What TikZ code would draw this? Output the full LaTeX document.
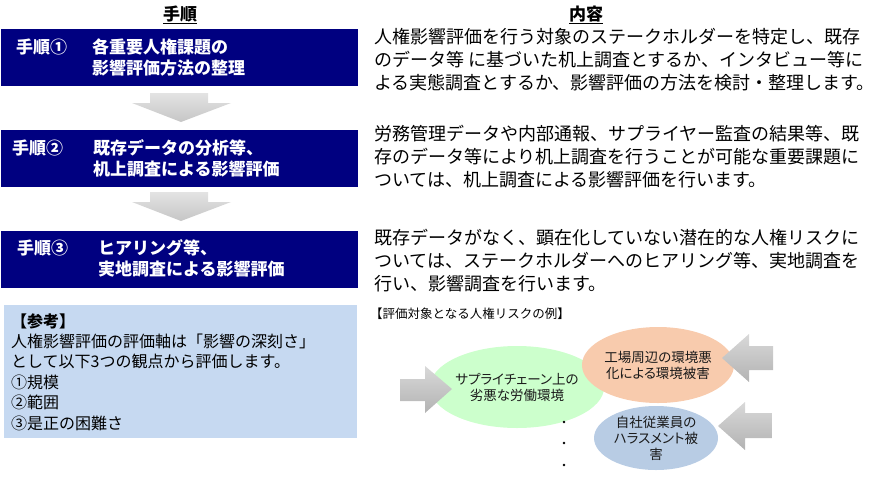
\documentclass[tikz,border=0pt]{standalone}
\usepackage{fontspec}
\setmainfont{Noto Sans CJK JP}
\newfontfamily\ovalfont{Noto Sans CJK JP}[RawFeature=+palt]
\usepackage{xcolor}
\usepackage{tikz}
\usetikzlibrary{shapes.geometric}
\definecolor{stepnavy}{HTML}{000080}
\definecolor{refblue}{HTML}{C6D9F1}
\definecolor{riskgreen}{HTML}{CCFFCC}
\definecolor{riskorange}{HTML}{F8CBAD}
\definecolor{riskblue}{HTML}{B8CCE4}
\definecolor{txtgray}{HTML}{1A1A1A}

\begin{document}
\begin{tikzpicture}[x=1pt,y=-1pt,
    stepbox/.style={fill=stepnavy, minimum width=357pt, minimum height=57pt},
    steplbl/.style={text=white, font=\fontsize{17}{21}\selectfont\bfseries, align=left, anchor=west},
    headlbl/.style={font=\fontsize{17}{20}\selectfont\bfseries},
    bodytxt/.style={font=\fontsize{18}{23}\selectfont, align=left, anchor=west},
    reftxt/.style={font=\fontsize{16}{20.4}\selectfont, align=left, anchor=west},
    riskoval/.style={ellipse, font=\ovalfont\fontsize{13.5}{16}\selectfont, text=txtgray, align=center},
    downarrow/.style={top color=gray!22, bottom color=gray!45},
    sidearrow/.style={top color=gray!30, bottom color=gray!60}]
        \tikzstyle{every node}+=[inner sep=0pt]
        \useasboundingbox (0,0) rectangle (880,485);
        \node [headlbl] (hstep) at (180,15) {\underline{手順}};
        \node [headlbl] (hbody) at (586,15) {\underline{内容}};
        \node [stepbox] (box1) at (179.5,57.5) {};
        \node [steplbl] (num1) at (16,47) {手順①};
        \node [steplbl] (txt1) at (92,57.5) {各重要人権課題の\\影響評価方法の整理};
        \node [stepbox] (box2) at (179.5,158) {};
        \node [steplbl] (num2) at (12,148) {手順②};
        \node [steplbl] (txt2) at (93,158) {既存データの分析等、\\机上調査による影響評価};
        \node [stepbox] (box3) at (179.5,259) {};
        \node [steplbl] (num3) at (17,248) {手順③};
        \node [steplbl] (txt3) at (98,258) {ヒアリング等、\\実地調査による影響評価};
        \path [downarrow] (150,93) -- (208,93) -- (208,103) -- (231,103) -- (181,122) -- (132,103) -- (150,103) -- cycle;
        \path [downarrow] (150,192) -- (208,192) -- (208,202) -- (231,202) -- (181,221) -- (132,202) -- (150,202) -- cycle;
        \node [bodytxt] (body1) at (374,60) {人権影響評価を行う対象のステークホルダーを特定し、既存\\のデータ等 に基づいた机上調査とするか、インタビュー等に\\よる実態調査とするか、影響評価の方法を検討・整理します。};
        \node [bodytxt] (body2) at (374,157) {労務管理データや内部通報、サプライヤー監査の結果等、既\\存のデータ等により机上調査を行うことが可能な重要課題に\\ついては、机上調査による影響評価を行います。};
        \node [bodytxt] (body3) at (374,261) {既存データがなく、顕在化していない潜在的な人権リスクに\\ついては、ステークホルダーへのヒアリング等、実地調査を\\行い、影響調査を行います。};
        \node [fill=refblue, minimum width=353pt, minimum height=133pt] (refbox) at (180.5,371.5) {};
        \node [reftxt] (reftext) at (11,372) {\textbf{【参考】}\\人権影響評価の評価軸は「影響の深刻さ」\\として以下3つの観点から評価します。\\①規模\\②範囲\\③是正の困難さ};
        \node [font=\fontsize{12.5}{14}\selectfont, anchor=west] (risklbl) at (370,314) {【評価対象となる人権リスクの例】};
        \node [riskoval, fill=riskgreen, minimum width=120pt, minimum height=82pt] (rsc) at (517,387) {サプライチェーン上の\\劣悪な労働環境};
        \node [riskoval, fill=riskorange, minimum width=120pt, minimum height=76pt] (rfac) at (658,365) {工場周辺の環境悪\\化による環境被害};
        \node [riskoval, fill=riskblue, minimum width=124pt, minimum height=64pt] (remp) at (656,438) {自社従業員の\\ハラスメント被\\害};
        \fill [black] (564,422) circle (1.3);
        \fill [black] (564,443) circle (1.3);
        \fill [black] (564,465) circle (1.3);
        \path [sidearrow] (400,379) -- (425,379) -- (425,366) -- (452,389) -- (425,413) -- (425,401) -- (400,401) -- cycle;
        \path [sidearrow] (773,346) -- (749,346) -- (749,334) -- (722,358) -- (749,382) -- (749,370) -- (773,370) -- cycle;
        \path [sidearrow] (772,413) -- (745,413) -- (745,402) -- (718,426) -- (745,450) -- (745,438) -- (772,438) -- cycle;
    \end{tikzpicture}
\end{document}
